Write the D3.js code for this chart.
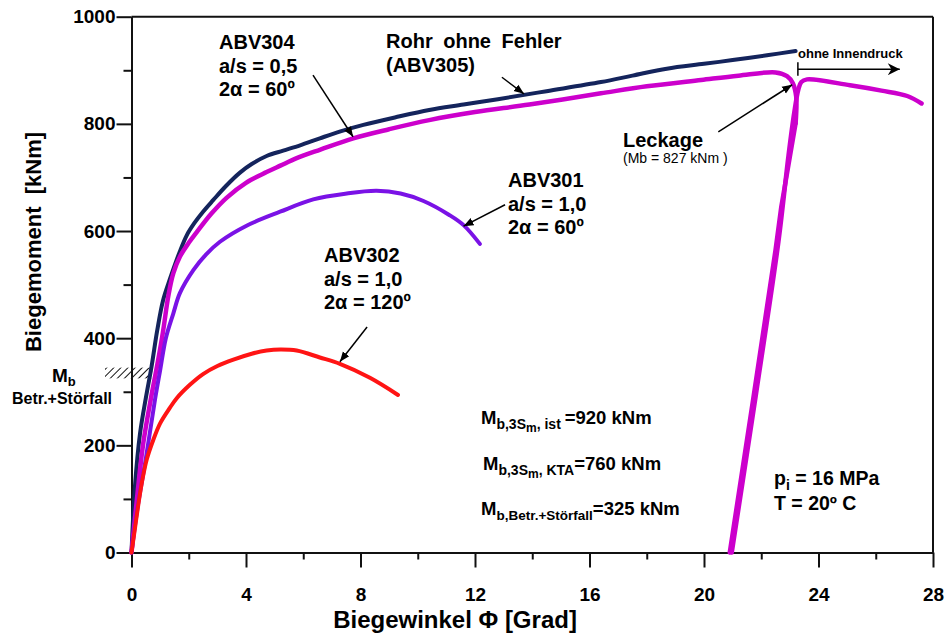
<!DOCTYPE html>
<html>
<head>
<meta charset="utf-8">
<script src="https://cdn.jsdelivr.net/npm/d3@7"></script>
<style>
  body { margin: 0; background: #fff; }
  text { font-family: "Liberation Sans", Arial, sans-serif; fill: #000; }
  .axis path, .axis line { stroke: #111; stroke-width: 2; }
  .axis text { font-size: 19px; font-weight: bold; }
</style>
</head>
<body>
<div id="chart"></div>
<script>
// tick values
var xTicks = [0, 4, 8, 12, 16, 20, 24, 28];
var xMinor = [2, 6, 10, 14, 18, 22, 26];
var yTicks = [0, 200, 400, 600, 800, 1000];
var yMinor = [100, 300, 500, 700, 900];

// Rohr ohne Fehler (ABV305)  [Biegewinkel, Biegemoment]
var abv305 = [[0, 0], [0.12, 123], [0.3, 223], [0.5, 288], [0.7, 347], [0.9, 415], [1.1, 470],
  [1.34, 510], [1.69, 562], [1.93, 592], [2.2, 615], [2.5, 636], [2.86, 658], [3.3, 684],
  [3.79, 709], [4.2, 725], [4.72, 740], [5.3, 750], [5.89, 760], [6.58, 773], [7.3, 786],
  [8.1, 798], [9.2, 812], [10.4, 826], [11.6, 836], [12.8, 846], [14.5, 861], [16.4, 878],
  [17.5, 890], [18.7, 903], [20.0, 912], [21.0, 919], [22.2, 928], [23.2, 936]];

// ABV304 a/s = 0,5: loading up to the leakage
var abv304 = [[0, 0], [0.2, 105], [0.4, 200], [0.67, 285], [0.9, 350], [1.1, 412], [1.29, 480],
  [1.46, 521], [1.69, 552], [2.0, 578], [2.28, 598], [2.8, 633], [3.32, 662], [4.0, 690],
  [4.72, 710], [5.2, 722], [5.77, 736], [6.6, 752], [7.75, 773], [9.0, 790], [10.4, 807],
  [12.0, 822], [13.9, 836], [16.4, 857], [18.0, 870], [19.9, 882], [21.2, 890], [22.5, 896],
  [22.9, 889], [23.1, 876], [23.22, 851], [23.2, 801]];

// ABV304 unloading after leakage
var abv304Unload = [[23.2, 801], [23.0, 739], [22.7, 645], [22.5, 565], [21.7, 280], [20.9, 0]];

// ABV304 reloading without internal pressure
var abv304Reload = [[20.97, 0], [21.8, 290], [22.6, 580], [22.95, 740], [23.15, 820], [23.3, 865],
  [23.4, 878], [23.6, 883], [25.1, 872], [26.2, 862], [27.1, 852], [27.6, 838]];

// ABV301 a/s = 1,0  2alpha = 60
var abv301 = [[0, 0], [0.2, 80], [0.5, 175], [0.82, 285], [1.0, 340], [1.2, 400], [1.46, 446],
  [1.69, 484], [2.16, 527], [2.6, 556], [3.09, 580], [4.02, 610], [5.19, 636], [6.35, 659],
  [7.52, 670], [8.56, 675], [9.4, 670], [10.2, 656], [11.1, 630], [11.6, 611], [12.17, 576]];

// ABV302 a/s = 1,0  2alpha = 120
var abv302 = [[0, 0], [0.12, 45], [0.24, 90], [0.36, 130], [0.53, 173], [0.76, 210], [1.0, 241],
  [1.34, 270], [1.58, 288], [2.04, 313], [2.5, 333], [3.0, 348], [3.56, 360], [4.2, 371],
  [4.72, 377], [5.2, 379], [5.77, 377], [6.58, 364], [7.28, 352], [8.33, 326], [9.31, 294]];

var smooth = d3.curveCatmullRom.alpha(0.5);

var series = [
  { name: "ABV305", values: abv305, color: "#14245c", width: 4, curve: smooth },
  { name: "ABV304", values: abv304, color: "#cc00cc", width: 4.5, curve: smooth },
  { name: "ABV304 unload", values: abv304Unload, color: "#cc00cc", width: 4.5, curve: d3.curveLinear },
  { name: "ABV304 reload", values: abv304Reload, color: "#cc00cc", width: 4.5, curve: smooth },
  { name: "ABV301", values: abv301, color: "#7a12e6", width: 4, curve: smooth },
  { name: "ABV302", values: abv302, color: "#ff1414", width: 4, curve: smooth }
];

var svgW = 948;
var svgH = 636;

var svg = d3.select("#chart")
  .append("svg")
  .attr("width", svgW)
  .attr("height", svgH);

svg.append("rect").attr("width", svgW).attr("height", svgH).attr("fill", "#fff");

var x = d3.scaleLinear().domain([0, 28]).range([131.5, 933]);
var y = d3.scaleLinear().domain([0, 1000]).range([552.5, 16.7]);

// hatch pattern for Mb Betr.+Störfall
var defs = svg.append("defs");
var pat = defs.append("pattern")
  .attr("id", "hatch")
  .attr("patternUnits", "userSpaceOnUse")
  .attr("width", 5)
  .attr("height", 5)
  .attr("patternTransform", "rotate(45)");
pat.append("line")
  .attr("x1", 0).attr("y1", 0).attr("x2", 0).attr("y2", 5)
  .attr("stroke", "#111").attr("stroke-width", 2);

defs.append("marker")
  .attr("id", "head")
  .attr("viewBox", "0 0 10 10")
  .attr("refX", 10).attr("refY", 5)
  .attr("markerWidth", 10).attr("markerHeight", 10)
  .attr("markerUnits", "userSpaceOnUse")
  .attr("orient", "auto")
  .append("path")
  .attr("d", "M0,1 L10,5 L0,9 Z")
  .attr("fill", "#000");

defs.append("marker")
  .attr("id", "bighead")
  .attr("viewBox", "0 0 10 10")
  .attr("refX", 10).attr("refY", 5)
  .attr("markerWidth", 14).attr("markerHeight", 12)
  .attr("markerUnits", "userSpaceOnUse")
  .attr("orient", "auto")
  .append("path")
  .attr("d", "M0,0 L10,5 L0,10 L3,5 Z")
  .attr("fill", "#000");

// frame
svg.append("line")
  .attr("x1", x(0)).attr("x2", x(28))
  .attr("y1", y(1000)).attr("y2", y(1000))
  .attr("stroke", "#111").attr("stroke-width", 2);
svg.append("line")
  .attr("x1", x(28)).attr("x2", x(28))
  .attr("y1", y(1000)).attr("y2", y(0))
  .attr("stroke", "#111").attr("stroke-width", 2);

// axes
svg.append("g")
  .attr("class", "axis")
  .attr("transform", `translate(0, ${y(0)})`)
  .call(d3.axisBottom(x).tickValues(xMinor).tickSize(7).tickSizeOuter(0).tickFormat(""));

svg.append("g")
  .attr("class", "axis")
  .attr("transform", `translate(0, ${y(0)})`)
  .call(d3.axisBottom(x).tickValues(xTicks).tickSize(15).tickSizeOuter(0).tickPadding(20)
    .tickFormat(d3.format("d")));

svg.append("g")
  .attr("class", "axis")
  .attr("transform", `translate(${x(0)}, 0)`)
  .call(d3.axisLeft(y).tickValues(yMinor).tickSize(8).tickSizeOuter(0).tickFormat(""));

svg.append("g")
  .attr("class", "axis")
  .attr("transform", `translate(${x(0)}, 0)`)
  .call(d3.axisLeft(y).tickValues(yTicks).tickSize(15).tickSizeOuter(0).tickPadding(1)
    .tickFormat(d3.format("d")));

// axis titles
svg.append("text")
  .attr("x", 455)
  .attr("y", 628)
  .attr("text-anchor", "middle")
  .attr("font-size", 24)
  .attr("font-weight", "bold")
  .text("Biegewinkel \u03A6 [Grad]");

svg.append("text")
  .attr("transform", "translate(41, 242) rotate(-90)")
  .attr("text-anchor", "middle")
  .attr("font-size", 22)
  .attr("font-weight", "bold")
  .style("white-space", "pre")
  .text("Biegemoment  [kNm]");

// Mb Betr.+Störfall band
svg.append("rect")
  .attr("x", 105)
  .attr("y", y(345))
  .attr("width", x(0.72) - 105)
  .attr("height", y(325) - y(345))
  .attr("fill", "url(#hatch)");

var mb = svg.append("text").attr("x", 52).attr("y", 382)
  .attr("font-size", 19).attr("font-weight", "bold");
mb.append("tspan").text("M");
mb.append("tspan").attr("font-size", 13).attr("dy", 4).text("b");
svg.append("text").attr("x", 12).attr("y", 404)
  .attr("font-size", 16).attr("font-weight", "bold")
  .text("Betr.+Störfall");

// curves
var line = d3.line()
  .x(d => x(d[0]))
  .y(d => y(d[1]));

svg.append("g")
  .selectAll("path")
  .data(series)
  .enter()
  .append("path")
  .attr("d", d => line.curve(d.curve)(d.values))
  .attr("fill", "none")
  .attr("stroke", d => d.color)
  .attr("stroke-width", d => d.width)
  .attr("stroke-linejoin", "round")
  .attr("stroke-linecap", "round");

// annotation arrows [x1, y1, x2, y2] in data units
var arrows = [
  [6.34, 891, 7.74, 776],
  [12.94, 887, 13.71, 856],
  [13.05, 649, 11.6, 609],
  [8.23, 421, 7.28, 356],
  [20.5, 785, 23.08, 873]
];

svg.append("g")
  .selectAll("line")
  .data(arrows)
  .enter()
  .append("line")
  .attr("x1", d => x(d[0]))
  .attr("y1", d => y(d[1]))
  .attr("x2", d => x(d[2]))
  .attr("y2", d => y(d[3]))
  .attr("stroke", "#000")
  .attr("stroke-width", 1.5)
  .attr("marker-end", "url(#head)");

// ohne Innendruck
svg.append("line")
  .attr("x1", x(23.28)).attr("x2", x(23.28))
  .attr("y1", y(915)).attr("y2", y(890))
  .attr("stroke", "#000").attr("stroke-width", 1.5);
svg.append("line")
  .attr("x1", x(23.28)).attr("x2", x(26.84))
  .attr("y1", y(902)).attr("y2", y(902))
  .attr("stroke", "#000").attr("stroke-width", 1.5)
  .attr("marker-end", "url(#bighead)");
svg.append("text").attr("x", 798).attr("y", 58)
  .attr("font-size", 13).attr("font-weight", "bold")
  .text("ohne Innendruck");

// labels
function block(x0, y0, lines, size, wordSpacing) {
  var t = svg.append("text")
    .attr("font-size", size)
    .attr("font-weight", "bold");
  lines.forEach(function(s, i) {
    var ts = t.append("tspan").attr("x", x0).attr("y", y0 + i * 23.5).text(s);
    if (wordSpacing) ts.attr("word-spacing", wordSpacing);
  });
}

block(219, 49, ["ABV304", "a/s = 0,5", "2\u03B1 = 60\u00BA"], 20);
block(386, 48, ["Rohr ohne Fehler", "(ABV305)"], 20, 5);
block(508, 187, ["ABV301", "a/s = 1,0", "2\u03B1 = 60\u00BA"], 20);
block(324, 262, ["ABV302", "a/s = 1,0", "2\u03B1 = 120\u00BA"], 20);

svg.append("text").attr("x", 623).attr("y", 147)
  .attr("font-size", 20).attr("font-weight", "bold")
  .text("Leckage");
svg.append("text").attr("x", 623).attr("y", 163)
  .attr("font-size", 14)
  .style("white-space", "pre")
  .text("(Mb = 827 kNm )");

// moment values
function mLine(x0, y0, subs, value) {
  var t = svg.append("text")
    .attr("x", x0).attr("y", y0)
    .attr("font-size", 18.5)
    .attr("font-weight", "bold")
    .style("white-space", "pre");
  t.append("tspan").text("M");
  var shift = 0;
  subs.forEach(function(s) {
    t.append("tspan").attr("font-size", s[1]).attr("dy", s[2] - shift).text(s[0]);
    shift = s[2];
  });
  t.append("tspan").attr("dy", -shift).text(value);
}

mLine(481, 424, [["b,3S", 14, 5], ["m", 12, 8], [", ist ", 14, 5]], "=920 kNm");
mLine(483, 470, [["b,3S", 14, 5], ["m", 12, 8], [", KTA", 14, 5]], "=760 kNm");
mLine(481, 515, [["b,Betr.+Störfall", 13.5, 5]], "=325 kNm");

var p = svg.append("text").attr("x", 774).attr("y", 485)
  .attr("font-size", 19.5).attr("font-weight", "bold");
p.append("tspan").text("p");
p.append("tspan").attr("font-size", 14).attr("dy", 5).text("i");
p.append("tspan").attr("dy", -5).text(" = 16 MPa");
svg.append("text").attr("x", 774).attr("y", 510)
  .attr("font-size", 19.5).attr("font-weight", "bold")
  .text("T = 20\u00BA C");
</script>
</body>
</html>
